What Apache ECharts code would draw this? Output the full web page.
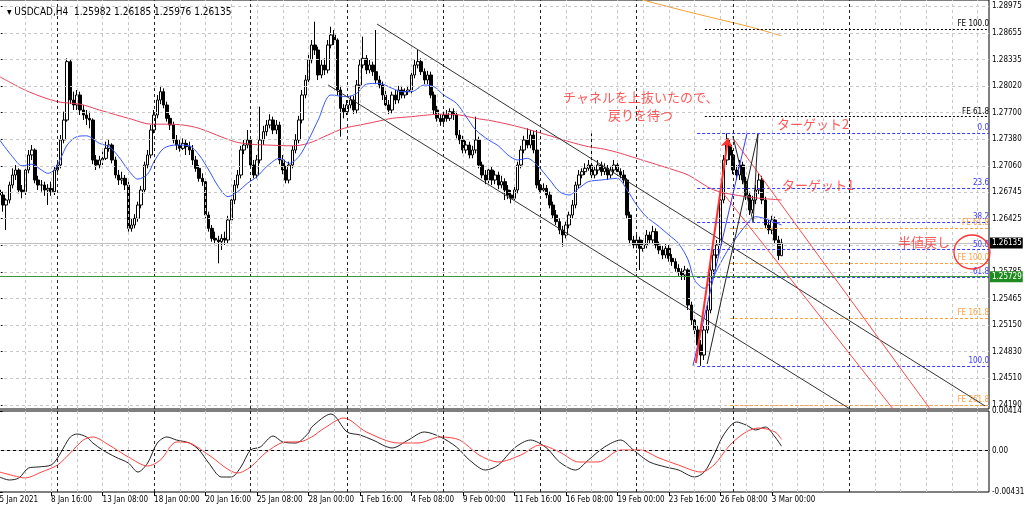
<!DOCTYPE html>
<html><head><meta charset="utf-8">
<script src="https://cdn.jsdelivr.net/npm/echarts@6/dist/echarts.min.js"></script>
<style>html,body{margin:0;padding:0;background:#fff}#c{width:1024px;height:509px}</style>
</head><body><div id="c"></div>
<script>
// ---- candles: [open, close, low, high] ----
const candles = [
[1.2677,1.2671,1.2665,1.2682],[1.2671,1.2659,1.2651,1.2675],[1.2659,1.2665,1.2629,1.2667],[1.2665,1.2683,1.2661,1.2687],[1.2683,1.2695,1.2679,1.2703],
[1.2695,1.2701,1.2689,1.2707],[1.2701,1.2677,1.2673,1.2703],[1.2677,1.2675,1.2667,1.2683],[1.2675,1.2701,1.2671,1.2706],[1.2701,1.2719,1.2697,1.2725],
[1.2719,1.2725,1.2713,1.2731],[1.2725,1.2689,1.2685,1.2727],[1.2689,1.2683,1.2677,1.2694],[1.2683,1.2683,1.2675,1.2689],[1.2683,1.2677,1.2670,1.2687],
[1.2677,1.2679,1.2659,1.2684],[1.2679,1.2675,1.2670,1.2687],[1.2675,1.2701,1.2671,1.2706],[1.2701,1.2707,1.2696,1.2713],[1.2707,1.2737,1.2703,1.2743],
[1.2737,1.2761,1.2733,1.2771],[1.2761,1.2831,1.2759,1.2835],[1.2831,1.2785,1.2780,1.2833],[1.2785,1.2779,1.2773,1.2795],[1.2779,1.2791,1.2773,1.2797],
[1.2791,1.2773,1.2767,1.2795],[1.2773,1.2767,1.2761,1.2779],[1.2767,1.2763,1.2755,1.2773],[1.2763,1.2761,1.2751,1.2771],[1.2761,1.2713,1.2708,1.2763],
[1.2713,1.2707,1.2701,1.2719],[1.2707,1.2713,1.2703,1.2718],[1.2713,1.2715,1.2707,1.2723],[1.2715,1.2727,1.2713,1.2735],[1.2727,1.2731,1.2723,1.2737],
[1.2731,1.2713,1.2709,1.2733],[1.2713,1.2695,1.2691,1.2717],[1.2695,1.2689,1.2683,1.2701],[1.2689,1.2691,1.2684,1.2699],[1.2691,1.2683,1.2677,1.2695],
[1.2683,1.2631,1.2627,1.2687],[1.2631,1.2635,1.2627,1.2643],[1.2635,1.2643,1.2631,1.2648],[1.2643,1.2659,1.2639,1.2663],[1.2659,1.2677,1.2655,1.2682],
[1.2677,1.2707,1.2673,1.2711],[1.2707,1.2719,1.2703,1.2725],[1.2719,1.2749,1.2715,1.2755],[1.2749,1.2767,1.2745,1.2773],[1.2767,1.2785,1.2763,1.2791],
[1.2785,1.2795,1.2780,1.2802],[1.2795,1.2779,1.2775,1.2799],[1.2779,1.2763,1.2759,1.2783],[1.2763,1.2755,1.2749,1.2767],[1.2755,1.2737,1.2733,1.2759],
[1.2737,1.2731,1.2725,1.2743],[1.2731,1.2727,1.2723,1.2737],[1.2727,1.2733,1.2725,1.2739],[1.2733,1.2729,1.2719,1.2737],[1.2729,1.2725,1.2719,1.2735],
[1.2725,1.2713,1.2707,1.2731],[1.2713,1.2703,1.2699,1.2718],[1.2703,1.2691,1.2687,1.2707],[1.2691,1.2687,1.2682,1.2697],[1.2687,1.2647,1.2643,1.2689],
[1.2647,1.2631,1.2627,1.2651],[1.2631,1.2619,1.2615,1.2635],[1.2619,1.2617,1.2612,1.2627],[1.2617,1.2615,1.2589,1.2622],[1.2615,1.2619,1.2605,1.2624],
[1.2619,1.2617,1.2611,1.2627],[1.2617,1.2641,1.2613,1.2646],[1.2641,1.2665,1.2637,1.2670],[1.2665,1.2683,1.2660,1.2689],[1.2683,1.2695,1.2679,1.2701],
[1.2695,1.2725,1.2691,1.2730],[1.2725,1.2731,1.2720,1.2737],[1.2731,1.2737,1.2727,1.2749],[1.2737,1.2707,1.2703,1.2739],[1.2707,1.2695,1.2691,1.2713],
[1.2695,1.2713,1.2691,1.2719],[1.2713,1.2737,1.2709,1.2777],[1.2737,1.2747,1.2731,1.2754],[1.2747,1.2755,1.2742,1.2761],[1.2755,1.2761,1.2751,1.2768],
[1.2761,1.2749,1.2744,1.2765],[1.2749,1.2755,1.2744,1.2761],[1.2755,1.2713,1.2708,1.2759],[1.2713,1.2701,1.2696,1.2719],[1.2701,1.2689,1.2685,1.2706],
[1.2689,1.2707,1.2685,1.2711],[1.2707,1.2725,1.2703,1.2730],[1.2725,1.2737,1.2721,1.2744],[1.2737,1.2761,1.2733,1.2766],[1.2761,1.2791,1.2757,1.2797],
[1.2791,1.2809,1.2787,1.2815],[1.2809,1.2833,1.2805,1.2839],[1.2833,1.2851,1.2829,1.2857],[1.2851,1.2845,1.2839,1.2879],[1.2845,1.2815,1.2809,1.2849],
[1.2815,1.2827,1.2811,1.2833],[1.2827,1.2821,1.2815,1.2835],[1.2821,1.2851,1.2817,1.2857],[1.2851,1.2863,1.2847,1.2873],[1.2863,1.2857,1.2851,1.2869],
[1.2857,1.2797,1.2791,1.2859],[1.2797,1.2775,1.2741,1.2802],[1.2775,1.2771,1.2763,1.2780],[1.2771,1.2779,1.2767,1.2785],[1.2779,1.2785,1.2775,1.2790],
[1.2785,1.2773,1.2768,1.2790],[1.2773,1.2803,1.2769,1.2809],[1.2803,1.2827,1.2799,1.2833],[1.2827,1.2835,1.2823,1.2861],[1.2835,1.2821,1.2816,1.2839],
[1.2821,1.2827,1.2817,1.2833],[1.2827,1.2819,1.2814,1.2831],[1.2819,1.2809,1.2804,1.2869],[1.2809,1.2803,1.2799,1.2814],[1.2803,1.2791,1.2785,1.2807],
[1.2791,1.2779,1.2775,1.2797],[1.2779,1.2773,1.2768,1.2785],[1.2773,1.2791,1.2769,1.2795],[1.2791,1.2785,1.2780,1.2797],[1.2785,1.2797,1.2781,1.2802],
[1.2797,1.2791,1.2787,1.2802],[1.2791,1.2795,1.2787,1.2799],[1.2795,1.2797,1.2791,1.2802],[1.2797,1.2815,1.2793,1.2821],[1.2815,1.2827,1.2811,1.2833],
[1.2827,1.2831,1.2823,1.2845],[1.2831,1.2819,1.2815,1.2835],[1.2819,1.2809,1.2804,1.2823],[1.2809,1.2815,1.2804,1.2820],[1.2815,1.2791,1.2787,1.2819],
[1.2791,1.2773,1.2768,1.2795],[1.2773,1.2763,1.2759,1.2778],[1.2763,1.2759,1.2754,1.2768],[1.2759,1.2767,1.2754,1.2771],[1.2767,1.2763,1.2759,1.2773],
[1.2763,1.2771,1.2760,1.2775],[1.2771,1.2767,1.2761,1.2775],[1.2767,1.2743,1.2739,1.2771],[1.2743,1.2737,1.2732,1.2749],[1.2737,1.2725,1.2721,1.2742],
[1.2725,1.2731,1.2721,1.2736],[1.2731,1.2719,1.2715,1.2735],[1.2719,1.2725,1.2715,1.2730],[1.2725,1.2737,1.2721,1.2765],[1.2737,1.2707,1.2703,1.2741],
[1.2707,1.2695,1.2691,1.2711],[1.2695,1.2689,1.2684,1.2701],[1.2689,1.2701,1.2685,1.2706],[1.2701,1.2689,1.2683,1.2705],[1.2689,1.2695,1.2684,1.2700],
[1.2695,1.2683,1.2678,1.2699],[1.2683,1.2687,1.2679,1.2694],[1.2687,1.2677,1.2665,1.2691],[1.2677,1.2671,1.2666,1.2683],[1.2671,1.2667,1.2661,1.2677],
[1.2667,1.2677,1.2665,1.2682],[1.2677,1.2707,1.2673,1.2711],[1.2707,1.2725,1.2703,1.2730],[1.2725,1.2737,1.2721,1.2742],[1.2737,1.2731,1.2727,1.2751],
[1.2731,1.2743,1.2727,1.2749],[1.2743,1.2725,1.2721,1.2748],[1.2725,1.2683,1.2679,1.2749],[1.2683,1.2677,1.2673,1.2689],[1.2677,1.2679,1.2675,1.2685],
[1.2679,1.2671,1.2667,1.2683],[1.2671,1.2659,1.2655,1.2675],[1.2659,1.2647,1.2643,1.2663],[1.2647,1.2639,1.2635,1.2653],[1.2639,1.2629,1.2624,1.2643],
[1.2629,1.2623,1.2609,1.2634],[1.2623,1.2635,1.2619,1.2639],[1.2635,1.2647,1.2631,1.2651],[1.2647,1.2659,1.2643,1.2665],[1.2659,1.2683,1.2655,1.2687],
[1.2683,1.2695,1.2679,1.2701],[1.2695,1.2699,1.2691,1.2703],[1.2699,1.2703,1.2695,1.2709],[1.2703,1.2707,1.2700,1.2713],[1.2707,1.2695,1.2691,1.2745],
[1.2695,1.2701,1.2691,1.2706],[1.2701,1.2707,1.2696,1.2713],[1.2707,1.2699,1.2694,1.2711],[1.2699,1.2703,1.2695,1.2709],[1.2703,1.2695,1.2689,1.2707],
[1.2695,1.2701,1.2691,1.2706],[1.2701,1.2707,1.2697,1.2713],[1.2707,1.2699,1.2694,1.2711],[1.2699,1.2695,1.2691,1.2703],[1.2695,1.2689,1.2685,1.2701],
[1.2689,1.2647,1.2643,1.2691],[1.2647,1.2617,1.2612,1.2651],[1.2617,1.2611,1.2607,1.2622],[1.2611,1.2617,1.2607,1.2623],[1.2617,1.2607,1.2581,1.2621],
[1.2607,1.2611,1.2603,1.2617],[1.2611,1.2623,1.2607,1.2629],[1.2623,1.2617,1.2612,1.2627],[1.2617,1.2627,1.2613,1.2634],[1.2627,1.2611,1.2607,1.2631],
[1.2611,1.2605,1.2600,1.2615],[1.2605,1.2599,1.2594,1.2610],[1.2599,1.2607,1.2595,1.2612],[1.2607,1.2595,1.2591,1.2611],[1.2595,1.2591,1.2586,1.2600],
[1.2591,1.2583,1.2579,1.2595],[1.2583,1.2579,1.2574,1.2588],[1.2579,1.2575,1.2569,1.2583],[1.2575,1.2581,1.2569,1.2586],[1.2581,1.2539,1.2533,1.2583],
[1.2539,1.2521,1.2515,1.2543],[1.2521,1.2509,1.2503,1.2526],[1.2509,1.2491,1.2485,1.2514],[1.2491,1.2479,1.2466,1.2497],[1.2479,1.2509,1.2473,1.2514],
[1.2509,1.2533,1.2505,1.2539],[1.2533,1.2581,1.2529,1.2587],[1.2581,1.2599,1.2576,1.2605],[1.2599,1.2611,1.2595,1.2617],[1.2611,1.2665,1.2607,1.2671],
[1.2665,1.2713,1.2661,1.2719],[1.2713,1.2731,1.2707,1.2745],[1.2731,1.2719,1.2713,1.2737],[1.2719,1.2701,1.2696,1.2725],[1.2701,1.2695,1.2689,1.2707],
[1.2695,1.2707,1.2689,1.2713],[1.2707,1.2689,1.2684,1.2711],[1.2689,1.2671,1.2665,1.2693],[1.2671,1.2653,1.2647,1.2675],[1.2653,1.2665,1.2649,1.2670],
[1.2665,1.2677,1.2660,1.2683],[1.2677,1.2689,1.2672,1.2697],[1.2689,1.2665,1.2660,1.2694],[1.2665,1.2635,1.2631,1.2669],[1.2635,1.2629,1.2624,1.2641],
[1.2629,1.2641,1.2624,1.2646],[1.2641,1.2617,1.2612,1.2645],[1.2617,1.25982,1.2593,1.2622],[1.25982,1.26135,1.25976,1.26185]
];

// ---- moving averages: [bar index, price] ----
const redMA = [[0,1.2813],[9,1.2795],[18,1.2783],[25,1.2780],[31,1.2773],[41,1.2762],[47,1.2756],[52,1.2756],[57,1.2755],[62,1.2751],[73,1.2735],[78,1.2732],[83,1.2731],[91,1.2730],[96,1.2733],[102,1.2743],[107,1.2751],[112,1.2755],[117,1.2759],[122,1.2763],[128,1.2765],[133,1.2767],[138,1.2768],[143,1.2767],[148,1.2763],[153,1.2760],[159,1.2755],[164,1.2750],[172,1.2741],[177,1.2735],[183,1.2729],[188,1.2726],[193,1.2721],[198,1.2715],[203,1.2709],[208,1.2703],[214,1.2695],[222,1.2677],[232,1.2669],[243,1.2665]];
const blueMA = [[0,1.2737],[4,1.2717],[7,1.2706],[10,1.2708],[13,1.2701],[15,1.2697],[17,1.2701],[19,1.2715],[21,1.2731],[24,1.2741],[27,1.2742],[31,1.2733],[34,1.2729],[37,1.2717],[40,1.2701],[43,1.2690],[46,1.2696],[48,1.2711],[51,1.2727],[55,1.2731],[59,1.2730],[62,1.2719],[65,1.2701],[68,1.2681],[71,1.2669],[74,1.2675],[77,1.2685],[80,1.2693],[83,1.2705],[87,1.2715],[90,1.2709],[93,1.2717],[96,1.2737],[99,1.2761],[103,1.2791],[108,1.2789],[111,1.2793],[114,1.2804],[118,1.2805],[122,1.2799],[125,1.2795],[128,1.2795],[132,1.2803],[135,1.2801],[138,1.2791],[142,1.2781],[145,1.2765],[148,1.2749],[152,1.2737],[155,1.2730],[158,1.2719],[161,1.2713],[164,1.2715],[167,1.2707],[171,1.2689],[174,1.2675],[177,1.2671],[180,1.2679],[183,1.2687],[187,1.2689],[192,1.2691],[195,1.2677],[198,1.2659],[201,1.2645],[205,1.2633],[208,1.2623],[211,1.2613],[214,1.2593],[216,1.2569],[219,1.2559],[221,1.2567],[224,1.2589],[227,1.2609],[232,1.2635],[235,1.2645],[239,1.2641],[243,1.2635]];
const orangeMA = [[195,1.2912],[200,1.2905],[217,1.2888],[233,1.2873],[243,1.2862]];

// ---- MACD(12,26,9): [bar index, value] ----
const macdMain = [[0,-0.00275],[3,-0.00306],[6,-0.00285],[9,-0.00181],[12,-0.00170],[16,-0.00150],[18,-0.00077],[20,0.00038],[22,0.00143],[24,0.00174],[27,0.00143],[29,0.00080],[32,0.00007],[36,-0.00066],[40,-0.00129],[43,-0.00223],[46,-0.00129],[49,0.00080],[52,0.00143],[55,0.00111],[59,0.00080],[62,0.00007],[65,-0.00129],[69,-0.00275],[72,-0.00275],[75,-0.00170],[78,0.00007],[81,0.00038],[85,0.00153],[88,0.00091],[92,0.00080],[96,0.00184],[97,0.00247],[103,0.00383],[108,0.00195],[112,0.00164],[116,0.00111],[122,0.00028],[127,0.00111],[132,0.00195],[137,0.00143],[142,0.00038],[146,-0.00097],[151,-0.00202],[155,-0.00150],[160,0.00028],[165,0.00111],[170,0.00028],[174,-0.00118],[179,-0.00202],[183,-0.00097],[188,0.00038],[193,0.00111],[197,0.00007],[202,-0.00118],[207,-0.00170],[211,-0.00202],[216,-0.00275],[219,-0.00223],[222,-0.00045],[225,0.00164],[229,0.00299],[232,0.00268],[235,0.00216],[238,0.00247],[241,0.00143],[243,0.00047]];
const macdSignal = [[0,-0.00223],[6,-0.00275],[8,-0.00285],[13,-0.00223],[18,-0.00150],[22,-0.00024],[26,0.00111],[29,0.00143],[34,0.00059],[40,-0.00066],[46,-0.00160],[50,-0.00097],[55,0.00091],[59,0.00080],[65,-0.00045],[74,-0.00233],[78,-0.00170],[83,-0.00014],[89,0.00091],[93,0.00091],[97,0.00143],[101,0.00237],[107,0.00341],[114,0.00195],[124,0.00080],[130,0.00080],[137,0.00143],[143,0.00111],[149,-0.00045],[155,-0.00118],[162,-0.00045],[168,0.00059],[174,-0.00014],[180,-0.00118],[186,-0.00118],[193,0.00007],[199,0.00007],[205,-0.00077],[211,-0.00150],[218,-0.00223],[222,-0.00150],[227,0.00059],[232,0.00195],[236,0.00237],[241,0.00195],[243,0.00118]];

// ---- axis ticks ----
const xTickIdx = [0,16,32,48,64,80,96,112,128,144,160,176,192,208,224,240];
const xTickText = ['5 Jan 2021','8 Jan 16:00','13 Jan 08:00','18 Jan 00:00','20 Jan 16:00','25 Jan 08:00','28 Jan 00:00','1 Feb 16:00','4 Feb 08:00','9 Feb 00:00','11 Feb 16:00','16 Feb 08:00','19 Feb 00:00','23 Feb 16:00','26 Feb 08:00','3 Mar 00:00'];
const weekSeparators = [18,48,78,108,138,168,198,228,264];
const priceTicks = [1.24190,1.24510,1.24830,1.25150,1.25465,1.25785,1.26105,1.26425,1.26745,1.27060,1.27380,1.27700,1.28020,1.28335,1.28655,1.28975];
const macdTicks = [0.00414, 0, -0.004313];

// ---- drawn objects ----
const fiboNames = ['0.0','23.6','38.2','50.0','61.8','100.0'];
const fiboPrices = [1.2745,1.26792,1.26384,1.26055,1.25726,1.2466];
const feBlackNames = ['FE 61.8','FE 100.0'];
const feBlackPrices = [1.2765,1.28702];
const feOrangeNames = ['FE 61.8','FE 100.0','FE 161.8','FE 261.8'];
const feOrangePrices = [1.26314,1.25894,1.2523,1.2419];
const bidPrice = 1.26135;
const alertPrice = 1.25729;
const channelUpper = [[117.3,1.28762],[306.3,1.24178]];
const channelLower = [[102.1,1.2803],[264.3,1.24142]];
const redLine1 = [[227.9,1.27394],[289.2,1.24142]];
const redLine2 = [[224.8,1.26734],[277.7,1.24142]];
const blackZig1 = [[219.9,1.24682],[235.7,1.27442]];
const blackZig2 = [[227.9,1.27418],[234.2,1.26386],[235.7,1.27442]];
const fiboDiag = [[215.5,1.2466],[232.3,1.2745]];
const arrowLine = [[216.4,1.24694],[226.4,1.27394]];
const notes = [
  {text:'チャネルを上抜いたので、', idx:175.1, price:1.27886},
  {text:'戻りを待つ', idx:189.1, price:1.2767},
  {text:'ターゲット2', idx:241.6, price:1.27562},
  {text:'ターゲット1', idx:243.2, price:1.2683},
  {text:'半値戻し', idx:279.2, price:1.26146}
];
const circleAt = [302.2, 1.26026];

const N = 308;
const cats = Array.from({length:N}, (_, i) => String(i));
const gridEvery = 8;
const vGrid = [];
for (let i = 0; i < N; i += gridEvery) vGrid.push(i);

const FONT = "'DejaVu Sans Condensed','Liberation Sans',sans-serif";
const RED = '#ff3030';
const BLUE = '#3a3aff';
const ORANGE = '#ffa040';

const chart = echarts.init(document.getElementById('c'), null, {renderer:'canvas'});
const last = candles[candles.length-1];

function hLine(p, color, type) {
  return {yAxis:p, lineStyle:{color:color, type:type, width:1}};
}
function levelLines(names, prices, startIdx, color, dash) {
  return names.map((n, k) => [
    {coord:[startIdx, prices[k]], name:n, lineStyle:{color:color, type:dash, width:1},
     label:{show:true, color:color, formatter:n, position:'insideEndTop', distance:[0,1], fontSize:8, fontFamily:FONT}},
    {coord:[N-0.5, prices[k]]}
  ]);
}

const option = {
  animation:false,
  backgroundColor:'#ffffff',
  title:{text:'▾ USDCAD,H4  ' + [last[0], last[3], last[2], last[1]].map(v=>v.toFixed(5)).join(' '),
    left:2, top:2, textStyle:{fontSize:10, fontWeight:'normal', color:'#000', fontFamily:FONT}},
  grid:[
    {left:-2, right:35, top:0, height:409, show:true, borderColor:'#000', borderWidth:1, backgroundColor:'transparent', containLabel:false, outerBoundsMode:'none'},
    {left:-2, right:35, top:411, height:81, show:true, borderColor:'#000', borderWidth:1, backgroundColor:'transparent', containLabel:false, outerBoundsMode:'none'}
  ],
  xAxis:[
    {type:'category', gridIndex:0, data:cats, boundaryGap:true, show:false},
    {type:'value', gridIndex:0, min:-0.5, max:N-0.5, show:false},
    {type:'category', gridIndex:1, data:cats, boundaryGap:true,
     axisLine:{show:true, lineStyle:{color:'#000'}}, axisTick:{show:false}, axisLabel:{show:false}, splitLine:{show:false}},
    {type:'value', gridIndex:1, min:-0.5, max:N-0.5, position:'bottom',
     axisLine:{show:false},
     axisTick:{show:true, length:4, customValues:xTickIdx, lineStyle:{color:'#000'}},
     axisLabel:{show:true, customValues:xTickIdx, align:'left', margin:4, hideOverlap:false,
       showMinLabel:true, showMaxLabel:true,
       formatter:(v)=>xTickText[xTickIdx.indexOf(Math.round(v))] || '', fontSize:8, color:'#000', fontFamily:FONT},
     splitLine:{show:false}}
  ],
  yAxis:[
    {type:'value', gridIndex:0, position:'right', min:1.24142, max:1.2905, scale:true,
     axisLine:{show:true, lineStyle:{color:'#000'}},
     axisTick:{show:true, length:3, customValues:priceTicks, lineStyle:{color:'#000'}},
     axisLabel:{show:true, customValues:priceTicks, formatter:v=>v.toFixed(5), fontSize:8, color:'#000', margin:3, fontFamily:FONT},
     splitLine:{show:false}},
    {type:'value', gridIndex:1, position:'right', min:-0.004313, max:0.00414, scale:true,
     axisLine:{show:true, lineStyle:{color:'#000'}},
     axisTick:{show:true, length:3, customValues:macdTicks, lineStyle:{color:'#000'}},
     axisLabel:{show:true, customValues:macdTicks, formatter:v=>(v===0?'0.00':String(v)), fontSize:8, color:'#000', margin:3, fontFamily:FONT},
     splitLine:{show:false}}
  ],
  series:[
    {type:'line', xAxisIndex:1, yAxisIndex:0, data:[], z:1, silent:true,
     markLine:{silent:true, symbol:'none', animation:false, precision:6, label:{show:false},
       data:[
         ...priceTicks.map(p=>hLine(p,'#c8c8c8',[3,3])),
         ...vGrid.map(i=>({xAxis:i, lineStyle:{color:'#c8c8c8', type:[3,3], width:1}})),
         ...weekSeparators.map(i=>({xAxis:i, lineStyle:{color:'#222', type:[3,3], width:1}}))
       ]}},
    {type:'line', xAxisIndex:3, yAxisIndex:1, data:[], z:1, silent:true,
     markLine:{silent:true, symbol:'none', animation:false, precision:8, label:{show:false},
       data:[
         hLine(0,'#c8c8c8',[3,3]),
         ...vGrid.map(i=>({xAxis:i, lineStyle:{color:'#c8c8c8', type:[3,3], width:1}})),
         ...weekSeparators.map(i=>({xAxis:i, lineStyle:{color:'#222', type:[3,3], width:1}}))
       ]}},
    {type:'line', xAxisIndex:1, yAxisIndex:0, data:[], z:2, silent:true,
     markLine:{silent:true, symbol:'none', animation:false, precision:6,
       data:[
         {yAxis:bidPrice, lineStyle:{color:'#c0c0c0', type:'solid', width:1},
          label:{show:true, position:'end', distance:1, formatter:bidPrice.toFixed(5), color:'#fff', backgroundColor:'#000', padding:[2,1,1,2], fontSize:8, fontFamily:FONT}},
         {yAxis:alertPrice, lineStyle:{color:'#3a9a3a', type:'solid', width:1},
          label:{show:true, position:'end', distance:1, formatter:alertPrice.toFixed(5), color:'#fff', backgroundColor:'#1f8a1f', padding:[2,1,1,2], fontSize:8, fontFamily:FONT}}
       ]}},
    {type:'candlestick', xAxisIndex:0, yAxisIndex:0, data:candles, z:3, barWidth:3,
     itemStyle:{color:'#ffffff', color0:'#000000', borderColor:'#000000', borderColor0:'#000000', borderWidth:1}},
    {type:'line', xAxisIndex:1, yAxisIndex:0, data:redMA, smooth:0.3, showSymbol:false, z:4, lineStyle:{color:'#e8405a', width:1}},
    {type:'line', xAxisIndex:1, yAxisIndex:0, data:blueMA, smooth:0.3, showSymbol:false, z:4, lineStyle:{color:'#3355ff', width:1}},
    {type:'line', xAxisIndex:1, yAxisIndex:0, data:orangeMA, smooth:0.3, showSymbol:false, z:4, lineStyle:{color:'#f0a030', width:1}},
    {type:'line', xAxisIndex:1, yAxisIndex:0, data:[], z:5, silent:true,
     markLine:{silent:true, symbol:'none', animation:false, precision:6,
       data:[
         ...levelLines(fiboNames, fiboPrices, 216.8, BLUE, [3,2]),
         ...levelLines(feBlackNames, feBlackPrices, 219.2, '#000', [2,2]),
         ...levelLines(feOrangeNames, feOrangePrices, 227, ORANGE, [3,2])
       ]}},
    {type:'lines', coordinateSystem:'cartesian2d', xAxisIndex:1, yAxisIndex:0, polyline:true, z:6, silent:true,
     data:[
       {coords:channelUpper, lineStyle:{color:'#333', width:1, opacity:1}},
       {coords:channelLower, lineStyle:{color:'#333', width:1, opacity:1}},
       {coords:redLine1, lineStyle:{color:'#ff4a4a', width:1, opacity:1}},
       {coords:redLine2, lineStyle:{color:'#ff4a4a', width:1, opacity:1}},
       {coords:blackZig1, lineStyle:{color:'#222', width:1, opacity:1}},
       {coords:blackZig2, lineStyle:{color:'#222', width:1, opacity:1}},
       {coords:fiboDiag, lineStyle:{color:BLUE, width:1, opacity:1}}
     ]},
    {type:'lines', coordinateSystem:'cartesian2d', xAxisIndex:1, yAxisIndex:0, z:7, silent:true,
     symbol:['none','arrow'], symbolSize:9,
     data:[{coords:arrowLine, lineStyle:{color:RED, width:2, opacity:1}}]},
    {type:'scatter', xAxisIndex:1, yAxisIndex:0, symbolSize:0, z:8, silent:true,
     data:notes.map(n=>({value:[n.idx, n.price], name:n.text})),
     label:{show:true, position:'right', distance:0, formatter:p=>p.name, color:RED, fontSize:13,
       fontFamily:"'Noto Sans CJK JP',sans-serif"}},
    {type:'scatter', xAxisIndex:1, yAxisIndex:0, symbol:'circle', symbolSize:[36,34], z:8, silent:true,
     data:[circleAt], itemStyle:{color:'rgba(0,0,0,0)', borderColor:RED, borderWidth:1.3, opacity:1}},
    {type:'line', xAxisIndex:3, yAxisIndex:1, data:macdMain, smooth:0.3, showSymbol:false, z:4, lineStyle:{color:'#222', width:1}},
    {type:'line', xAxisIndex:3, yAxisIndex:1, data:macdSignal, smooth:0.3, showSymbol:false, z:4, lineStyle:{color:'#ff4040', width:1}}
  ]
};
chart.setOption(option);
</script></body></html>
